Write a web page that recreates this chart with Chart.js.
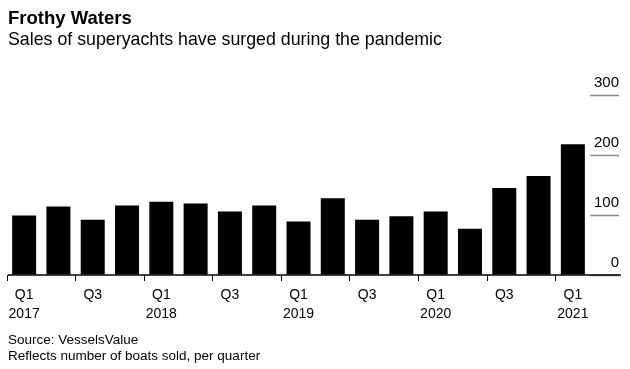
<!DOCTYPE html>
<html><head><meta charset="utf-8">
<script src="https://cdn.jsdelivr.net/npm/chart.js@4/dist/chart.umd.min.js"></script>
<style>
html,body{margin:0;padding:0;background:#fff;}
body{width:630px;height:369px;position:relative;overflow:hidden;font-family:"Liberation Sans",Arial,sans-serif;color:#000;}
.t{position:absolute;left:8px;white-space:nowrap;line-height:1;}
#wrap{position:absolute;left:0;top:0;width:630px;height:369px;}
</style></head><body>
<div id="wrap"><canvas id="c" width="630" height="369"></canvas></div>
<div class="t" style="top:8.5px;font-size:18.5px;font-weight:bold">Frothy Waters</div>
<div class="t" style="top:31px;font-size:17.8px">Sales of superyachts have surged during the pandemic</div>
<div class="t" style="top:333px;font-size:13.5px">Source: VesselsValue</div>
<div class="t" style="top:348.5px;font-size:13.5px">Reflects number of boats sold, per quarter</div>
<script>
const quarters = ['Q1','Q2','Q3','Q4','Q1','Q2','Q3','Q4','Q1','Q2','Q3','Q4','Q1','Q2','Q3','Q4','Q1'];
const years = ['2017','2017','2017','2017','2018','2018','2018','2018','2019','2019','2019','2019','2020','2020','2020','2020','2021'];
const sales = [99,114,92,116,122,119,106,116,89,128,92,98,106,77,145,165,218];
const yTicks = [0,100,200,300];

const FONT = '"Liberation Sans", Arial, sans-serif';
const labels = quarters.map((q,i)=>q+' '+years[i]);

const baseline = {
  id:'baseline',
  afterDatasetsDraw(chart){
    const y = chart.scales.y.getPixelForValue(0);
    const ctx = chart.ctx;
    ctx.save();
    ctx.strokeStyle = '#000';
    ctx.lineWidth = 1.5;
    ctx.beginPath();
    ctx.moveTo(8, y);
    ctx.lineTo(621, y);
    ctx.stroke();
    ctx.restore();
  }
};

new Chart(document.getElementById('c'), {
  type:'bar',
  data:{ labels, datasets:[{ data:sales, backgroundColor:'#000', borderWidth:0, barPercentage:0.7, categoryPercentage:1 }]},
  options:{
    responsive:false, animation:false,
    layout:{padding:{left:7,right:10,top:95,bottom:49}},
    plugins:{legend:{display:false}, tooltip:{enabled:false}},
    scales:{
      x:{
        grid:{display:true, drawOnChartArea:false, drawTicks:true, tickLength:6,
              tickColor:(c)=> c.index%2===0 ? '#000' : 'rgba(0,0,0,0)', tickWidth:1},
        border:{display:false},
        ticks:{autoSkip:false, maxRotation:0, minRotation:0, padding:5, color:'#000',
               font:{family:FONT, size:14, lineHeight:1.36},
               callback:(v,i)=> i%2!==0 ? '' : (quarters[i]==='Q1' ? [quarters[i], years[i]] : quarters[i])},
        afterFit:(s)=>{ s.height = 45; }
      },
      y:{
        position:'right', min:0, max:300,
        afterBuildTicks:(s)=>{ s.ticks = yTicks.map(v=>({value:v})); },
        grid:{drawOnChartArea:false, drawTicks:true, tickLength:29, tickColor:'#8c8c8c', tickWidth:1.5},
        border:{display:false},
        ticks:{mirror:true, padding:29, labelOffset:-12, color:'#000', font:{family:FONT, size:15}},
        afterFit:(s)=>{ s.width = 30; }
      }
    }
  },
  plugins:[baseline]
});
</script>
</body></html>
